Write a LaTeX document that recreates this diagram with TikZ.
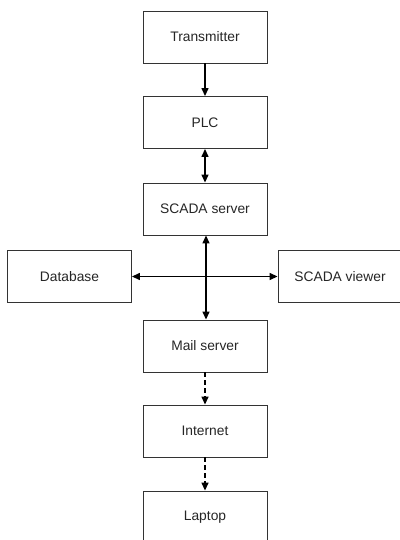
\documentclass[tikz,border=0pt]{standalone}
\usepackage{fontspec}
\setmainfont{Liberation Sans}
\usetikzlibrary{arrows.meta}
\begin{document}
\begin{tikzpicture}[x=1pt,y=-1pt,
  box/.style={draw=black!80, line width=0.9pt, minimum width=124pt, minimum height=52pt, inner sep=0pt, font=\fontsize{13.8}{16}\selectfont, text=black!85},
  conn/.style={line width=1.4pt, -{Triangle[width=7pt,length=8pt]}},
  biconn/.style={line width=1.4pt, {Triangle[width=7pt,length=8pt]}-{Triangle[width=7pt,length=8pt]}},
  dconn/.style={conn, dash pattern=on 5pt off 3pt}]
\useasboundingbox[fill=white] (0,0) rectangle (399,540);
\node[box] (tx) at (205,37) {Transmitter};
\node[box] (plc) at (205,122.5) {PLC};
\node[box] (srv) at (205,209) {SCADA server};
\node[box] (db) at (69.5,276.5) {Database};
\node[box] (view) at (340,276.5) {SCADA viewer};
\node[box] (mail) at (205,346) {Mail server};
\node[box] (net) at (205,431) {Internet};
\node[box] (lap) at (205,517) {Laptop};
\draw[conn] (tx) -- (plc);
\draw[biconn] (plc) -- (srv);
\draw[biconn] ([xshift=1pt]srv.south) -- ([xshift=1pt]mail.north);
\draw[biconn] (db) -- (view);
\draw[dconn] (mail) -- (net);
\draw[dconn] (net) -- (lap);
\end{tikzpicture}
\end{document}
